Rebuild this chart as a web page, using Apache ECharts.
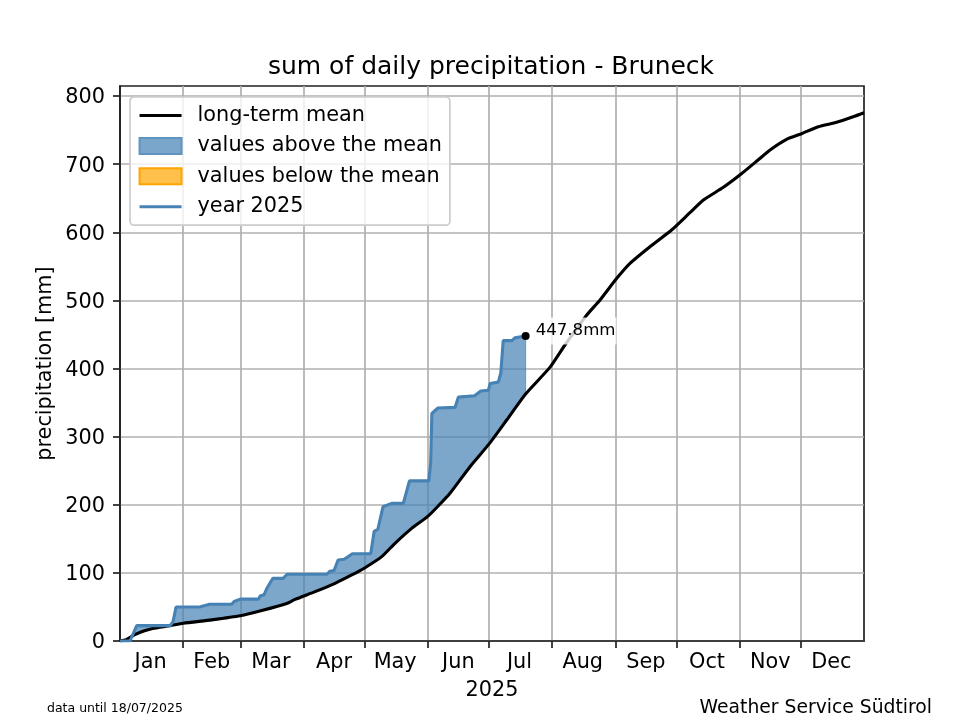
<!DOCTYPE html>
<html>
<head>
<meta charset="utf-8">
<style>
  html, body { margin: 0; padding: 0; background: #fff; }
  #main { width: 960px; height: 720px; }
</style>
<script src="https://cdn.jsdelivr.net/npm/echarts@6/dist/echarts.min.js"></script>
</head>
<body>
<div id="main"></div>
<script>
// all x values are day of the year
const monthNames = ['Jan', 'Feb', 'Mar', 'Apr', 'May', 'Jun', 'Jul', 'Aug', 'Sep', 'Oct', 'Nov', 'Dec'];
const monthStarts = [31, 59, 90, 120, 151, 181, 212, 243, 273, 304, 334];
const monthMiddles = [15, 45, 74, 105, 135, 166, 196, 227, 258, 288, 319, 349];
const yTicks = [0, 100, 200, 300, 400, 500, 600, 700, 800];

const meanDays = [0, 3, 7, 12, 16, 24.5, 31, 45, 59, 70, 81.8, 85.9, 95.7, 105.5, 113.7, 120.2, 128.4, 134.9, 143.1, 151, 155.4, 161.9, 171.7, 181, 189.7, 199, 211, 218.3, 229, 235.5, 243.7, 250.2, 260, 270.6, 279.6, 286.2, 296, 304.7, 313, 318.9, 327, 334.6, 342.6, 351.6, 359.7, 365];
const meanValues = [0, 2, 9, 15, 18.5, 22.5, 26, 31, 37, 45, 55, 61, 72.4, 84.7, 96.9, 107.6, 123.8, 143.4, 165.4, 183, 196, 216.8, 255.9, 289, 324.4, 362.6, 402, 434.5, 478.5, 500.6, 532.4, 554.4, 578.8, 603.3, 628.7, 647.3, 666, 685.5, 706, 720.8, 736.4, 745, 755, 761.4, 769.6, 775.5];

const yearDays = [0, 4.9, 8.2, 24.5, 26, 27.5, 39, 44, 54.8, 56, 59, 68, 68.7, 70.7, 72, 75, 80, 82, 101.5, 103, 105, 107, 110, 114, 123, 124.7, 126.5, 129, 133.3, 139, 142, 151.5, 152.4, 153, 156, 164.4, 166, 174, 177, 180.7, 181.6, 185.6, 186.8, 188, 192.3, 193.7, 199];
const yearValues = [0, 0, 22.5, 22.5, 28, 50, 50, 54, 54, 58, 61.5, 61.5, 66, 68, 77, 92, 92, 98, 98, 102.5, 103.5, 119, 120, 128, 128, 161, 164, 197, 202, 202, 235, 235, 261, 334, 342, 343, 358, 360, 367, 368, 378, 380, 393, 441, 441, 445, 447.8];

const lastDay = 199;
const lastValue = 447.8;

const zip = (xs, ys) => xs.map((x, i) => [x, ys[i]]);
const meanPoints = zip(meanDays, meanValues);
const yearPoints = zip(yearDays, yearValues);

const textColor = '#000';
const fontFamily = '"DejaVu Sans", sans-serif';
const blue = '#4682b4';
const orange = '#ffa500';
const hiddenMarker = { color: 'transparent', borderColor: 'transparent', borderWidth: 0 };

// polygon between the year line and the mean line
function aboveArea(params, api) {
  const upper = yearPoints.filter(p => p[0] >= 5.5);
  const lower = meanPoints.filter(p => p[0] >= 5.5 && p[0] <= lastDay).reverse();
  const pts = upper.concat(lower).map(p => api.coord(p));
  return {
    type: 'polygon',
    shape: { points: pts },
    style: { fill: blue, stroke: blue, lineWidth: 1, opacity: 0.7 }
  };
}

const chart = echarts.init(document.getElementById('main'));
chart.setOption({
  animation: false,
  backgroundColor: '#fff',
  title: [
    { text: 'sum of daily precipitation - Bruneck', left: 486, top: 50, textAlign: 'center',
      textStyle: { fontFamily, fontSize: 25, fontWeight: 'normal', color: textColor } },
    { text: '2025', left: 487, top: 675, textAlign: 'center',
      textStyle: { fontFamily, fontSize: 20.8, fontWeight: 'normal', color: textColor } },
    { text: 'data until 18/07/2025', left: 42, top: 697,
      textStyle: { fontFamily, fontSize: 12.5, fontWeight: 'normal', color: textColor } },
    { text: 'Weather Service Südtirol', right: 23, top: 694,
      textStyle: { fontFamily, fontSize: 18.75, fontWeight: 'normal', color: textColor } }
  ],
  grid: {
    left: 120, right: 96, top: 86, bottom: 79,
    show: true, borderColor: '#222', borderWidth: 1.7, backgroundColor: 'transparent'
  },
  legend: {
    left: 130, top: 97, orient: 'vertical',
    padding: [8, 8, 8, 8], itemGap: 9.4, itemWidth: 42, itemHeight: 16,
    backgroundColor: 'rgba(255,255,255,0.8)', borderColor: '#ccc', borderWidth: 1.7, borderRadius: 4,
    textStyle: { fontFamily, fontSize: 20.8, color: textColor, padding: [0, 0, 0, 11] },
    data: [
      { name: 'long-term mean', itemStyle: hiddenMarker, lineStyle: { color: '#000', width: 3.1 } },
      { name: 'values above the mean', icon: 'rect' },
      { name: 'values below the mean', icon: 'rect' },
      { name: 'year 2025', itemStyle: hiddenMarker, lineStyle: { color: blue, width: 3.1 } }
    ]
  },
  xAxis: {
    type: 'value', min: 0, max: 365,
    axisLine: { show: true, lineStyle: { color: '#222', width: 1.7 } },
    axisTick: { show: true, length: 7, customValues: monthStarts, lineStyle: { color: '#222', width: 1.7 } },
    splitLine: { show: true, customValues: monthStarts, lineStyle: { color: '#b0b0b0', width: 1.7 } },
    axisLabel: {
      customValues: monthMiddles, margin: 11, fontFamily, fontSize: 20.8, color: textColor,
      formatter: v => monthNames[monthMiddles.indexOf(v)]
    }
  },
  yAxis: {
    type: 'value', min: 0, max: 814.7,
    name: 'precipitation [mm]', nameLocation: 'middle', nameGap: 64, nameMoveOverlap: false,
    nameTextStyle: { fontFamily, fontSize: 20.8, color: textColor },
    axisLine: { show: true, lineStyle: { color: '#222', width: 1.7 } },
    axisTick: { show: true, length: 7, customValues: yTicks, lineStyle: { color: '#222', width: 1.7 } },
    splitLine: { show: true, customValues: yTicks, lineStyle: { color: '#b0b0b0', width: 1.7 } },
    axisLabel: {
      customValues: yTicks, margin: 15, color: textColor,
      formatter: v => '{tick|' + v + '}',
      rich: { tick: { fontFamily, fontSize: 20.8, color: textColor, padding: [4, 0, 0, 0] } }
    }
  },
  series: [
    {
      name: 'values above the mean', type: 'custom', coordinateSystem: 'cartesian2d',
      data: [[0, 0]], renderItem: aboveArea, silent: true, z: 2,
      itemStyle: { color: '#7ba6cc', borderColor: '#5f93c0', borderWidth: 1.5 }
    },
    {
      name: 'values below the mean', type: 'line', data: [], symbol: 'none',
      itemStyle: { color: 'rgba(255,165,0,0.7)', borderColor: orange, borderWidth: 1.5 },
      lineStyle: { width: 0 }
    },
    {
      name: 'long-term mean', type: 'line', data: meanPoints, symbol: 'none', z: 3, smooth: 0.2,
      lineStyle: { color: '#000', width: 3.1 }, itemStyle: { color: '#000' }
    },
    {
      name: 'year 2025', type: 'line', data: yearPoints, symbol: 'none', z: 4,
      lineStyle: { color: blue, width: 3.1 }, itemStyle: { color: blue }
    },
    {
      type: 'scatter', data: [[lastDay, lastValue]], symbolSize: 8, z: 6,
      itemStyle: { color: '#000', opacity: 1 },
      label: {
        show: true, position: 'right', distance: 4, offset: [0, -5],
        formatter: lastValue + 'mm', fontFamily, fontSize: 16.6, color: textColor,
        backgroundColor: 'rgba(255,255,255,0.8)', padding: [5, 1, 5, 2]
      }
    }
  ]
});
</script>
</body>
</html>
